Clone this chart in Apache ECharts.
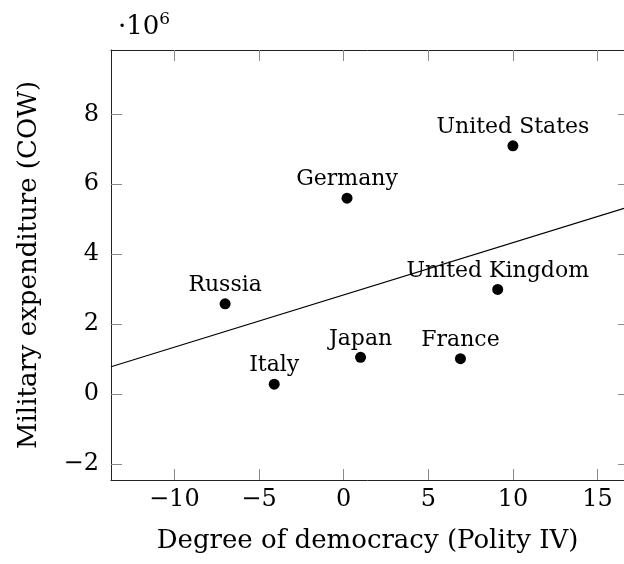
<!DOCTYPE html>
<html>
<head>
<meta charset="utf-8">
<script src="https://cdn.jsdelivr.net/npm/echarts@6/dist/echarts.min.js"></script>
<style>
  html, body { margin: 0; padding: 0; background: #fff; }
  #chart { width: 624px; height: 564px; }
</style>
</head>
<body>
<div id="chart"></div>
<script>
// countries, democracy score (x) and military expenditure in millions (y)
const countries = ['United States', 'Germany', 'Russia', 'United Kingdom', 'Japan', 'France', 'Italy']
const democracy = [10, 0.2, -7, 9.1, 1, 6.9, -4.1]
const expenditure = [7.1, 5.6, 2.58, 2.99, 1.05, 1.01, 0.28]

// fitted line end points
const fitX = [-13.74, 16.56]
const fitY = [0.78, 5.31]

const xTicks = [-10, -5, 0, 5, 10, 15]
const yTicks = [-2, 0, 2, 4, 6, 8]

const serif = 'DejaVu Serif'
const fmt = v => String(v).replace('-', '\u2212')

const chart = echarts.init(document.getElementById('chart'))

const points = countries.map((name, i) => ({ name: name, value: [democracy[i], expenditure[i]] }))
const fitLine = fitX.map((x, i) => [x, fitY[i]])

const tickStyle = { color: '#8a8a8a', width: 1 }

chart.setOption({
  animation: false,
  // the plot box is cut off at the right edge of the picture
  grid: { left: 111, right: 0, top: 50, bottom: 84, show: false },
  xAxis: [{
    type: 'value',
    min: -13.74,
    max: 16.56,
    name: 'Degree of democracy (Polity IV)',
    nameLocation: 'middle',
    nameGap: 48,
    nameTextStyle: { fontFamily: serif, fontSize: 26, color: '#000' },
    axisLine: { show: true, onZero: false, lineStyle: { color: '#222', width: 1 } },
    axisTick: { show: true, inside: true, length: 11, customValues: xTicks, lineStyle: tickStyle },
    axisLabel: { customValues: xTicks, formatter: fmt, margin: 8, fontFamily: serif, fontSize: 24, color: '#000' },
    splitLine: { show: false }
  }, {
    type: 'value',
    position: 'top',
    min: -13.74,
    max: 16.56,
    axisLine: { show: true, onZero: false, lineStyle: { color: '#222', width: 1 } },
    axisTick: { show: true, inside: true, length: 11, customValues: xTicks, lineStyle: tickStyle },
    axisLabel: { show: false },
    splitLine: { show: false }
  }],
  yAxis: [{
    type: 'value',
    min: -2.46,
    max: 9.84,
    name: 'Military expenditure (COW)',
    nameLocation: 'middle',
    nameGap: 69,
    nameTextStyle: { fontFamily: serif, fontSize: 26, color: '#000' },
    axisLine: { show: true, onZero: false, lineStyle: { color: '#222', width: 1 } },
    axisTick: { show: true, inside: true, length: 11, customValues: yTicks, lineStyle: tickStyle },
    axisLabel: { customValues: yTicks, formatter: fmt, margin: 12, fontFamily: serif, fontSize: 24, color: '#000' },
    splitLine: { show: false }
  }, {
    type: 'value',
    position: 'right',
    min: -2.46,
    max: 9.84,
    axisLine: { show: false, onZero: false },
    axisTick: { show: true, inside: true, length: 6, customValues: yTicks, lineStyle: tickStyle },
    axisLabel: { show: false },
    splitLine: { show: false }
  }],
  graphic: [{
    type: 'text',
    left: 118,
    top: 11,
    style: {
      text: '{a|·10}{b|6}',
      rich: {
        a: { fontFamily: serif, fontSize: 26, fill: '#000', verticalAlign: 'bottom' },
        b: { fontFamily: serif, fontSize: 17, fill: '#000', verticalAlign: 'top', padding: [0, 0, 12, 0] }
      }
    }
  }],
  series: [{
    type: 'line',
    data: fitLine,
    showSymbol: false,
    silent: true,
    lineStyle: { color: '#000', width: 1.2 },
    z: 1
  }, {
    type: 'scatter',
    data: points,
    symbolSize: 11,
    itemStyle: { color: '#000', opacity: 1 },
    label: {
      show: true,
      position: 'top',
      distance: 2,
      formatter: p => p.name,
      fontFamily: serif,
      fontSize: 22,
      color: '#000'
    },
    z: 3
  }]
})
</script>
</body>
</html>
